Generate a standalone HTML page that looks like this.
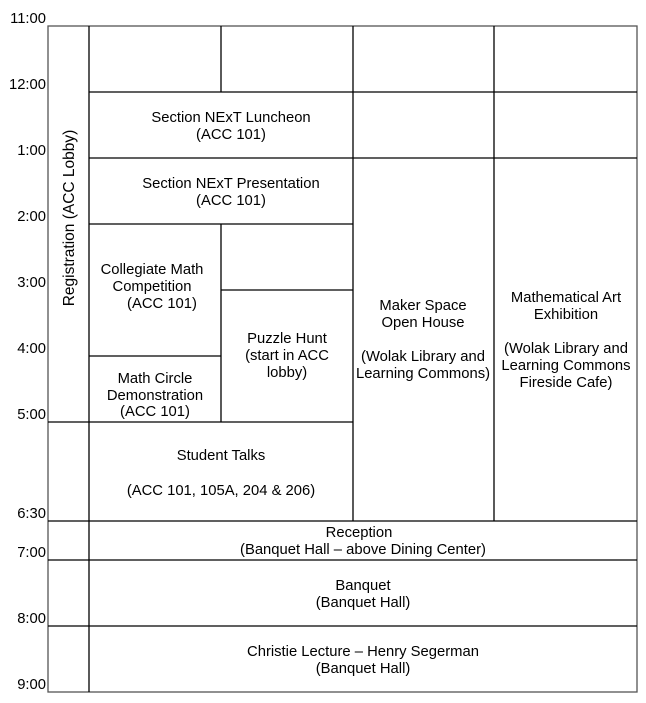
<!DOCTYPE html>
<html><head><style>
html,body{margin:0;padding:0;background:#fff;}
svg{display:block;font-family:"Liberation Sans",Arial,sans-serif;}
text{font-size:14.8px;fill:#000;}
</style></head><body>
<svg width="646" height="703" viewBox="0 0 646 703" xmlns="http://www.w3.org/2000/svg">
<g text-anchor="end" style="font-size:14px">
<text x="46" y="23">11:00</text>
<text x="46" y="89">12:00</text>
<text x="46" y="155">1:00</text>
<text x="46" y="221">2:00</text>
<text x="46" y="287">3:00</text>
<text x="46" y="353">4:00</text>
<text x="46" y="419">5:00</text>
<text x="46" y="518">6:30</text>
<text x="46" y="557">7:00</text>
<text x="46" y="623">8:00</text>
<text x="46" y="689">9:00</text>
</g>
<g stroke="#000" stroke-width="1.3" fill="none">
<rect x="48" y="26" width="589" height="666" stroke="#555"/>
<line x1="89" y1="26" x2="89" y2="692"/>
<line x1="221" y1="26" x2="221" y2="92"/>
<line x1="353" y1="26" x2="353" y2="521"/>
<line x1="494" y1="26" x2="494" y2="521"/>
<line x1="89" y1="92" x2="637" y2="92"/>
<line x1="89" y1="158" x2="637" y2="158"/>
<line x1="89" y1="224" x2="353" y2="224"/>
<line x1="221" y1="224" x2="221" y2="422"/>
<line x1="221" y1="290" x2="353" y2="290"/>
<line x1="89" y1="356" x2="221" y2="356"/>
<line x1="48" y1="422" x2="353" y2="422"/>
<line x1="48" y1="521" x2="637" y2="521"/>
<line x1="48" y1="560" x2="637" y2="560"/>
<line x1="48" y1="626" x2="637" y2="626"/>
</g>
<text transform="translate(74,218) rotate(-90)" text-anchor="middle" style="font-size:15.5px">Registration (ACC Lobby)</text>
<g text-anchor="middle">
<text x="231" y="122">Section NExT Luncheon</text>
<text x="231" y="139">(ACC 101)</text>
<text x="231" y="188">Section NExT Presentation</text>
<text x="231" y="205">(ACC 101)</text>
<text x="152" y="274">Collegiate Math</text>
<text x="152" y="291">Competition</text>
<text x="162" y="308">(ACC 101)</text>
<text x="155" y="383">Math Circle</text>
<text x="155" y="400">Demonstration</text>
<text x="155" y="416">(ACC 101)</text>
<text x="287" y="343">Puzzle Hunt</text>
<text x="287" y="360">(start in ACC</text>
<text x="287" y="377">lobby)</text>
<text x="221" y="460">Student Talks</text>
<text x="221" y="495">(ACC 101, 105A, 204 &amp; 206)</text>
<text x="423" y="310">Maker Space</text>
<text x="423" y="327">Open House</text>
<text x="423" y="361">(Wolak Library and</text>
<text x="423" y="378">Learning Commons)</text>
<text x="566" y="302">Mathematical Art</text>
<text x="566" y="319">Exhibition</text>
<text x="566" y="353">(Wolak Library and</text>
<text x="566" y="370">Learning Commons</text>
<text x="566" y="387">Fireside Cafe)</text>
<text x="359" y="537">Reception</text>
<text x="363" y="554">(Banquet Hall – above Dining Center)</text>
<text x="363" y="590">Banquet</text>
<text x="363" y="607">(Banquet Hall)</text>
<text x="363" y="656">Christie Lecture – Henry Segerman</text>
<text x="363" y="673">(Banquet Hall)</text>
</g>
</svg>
</body></html>
